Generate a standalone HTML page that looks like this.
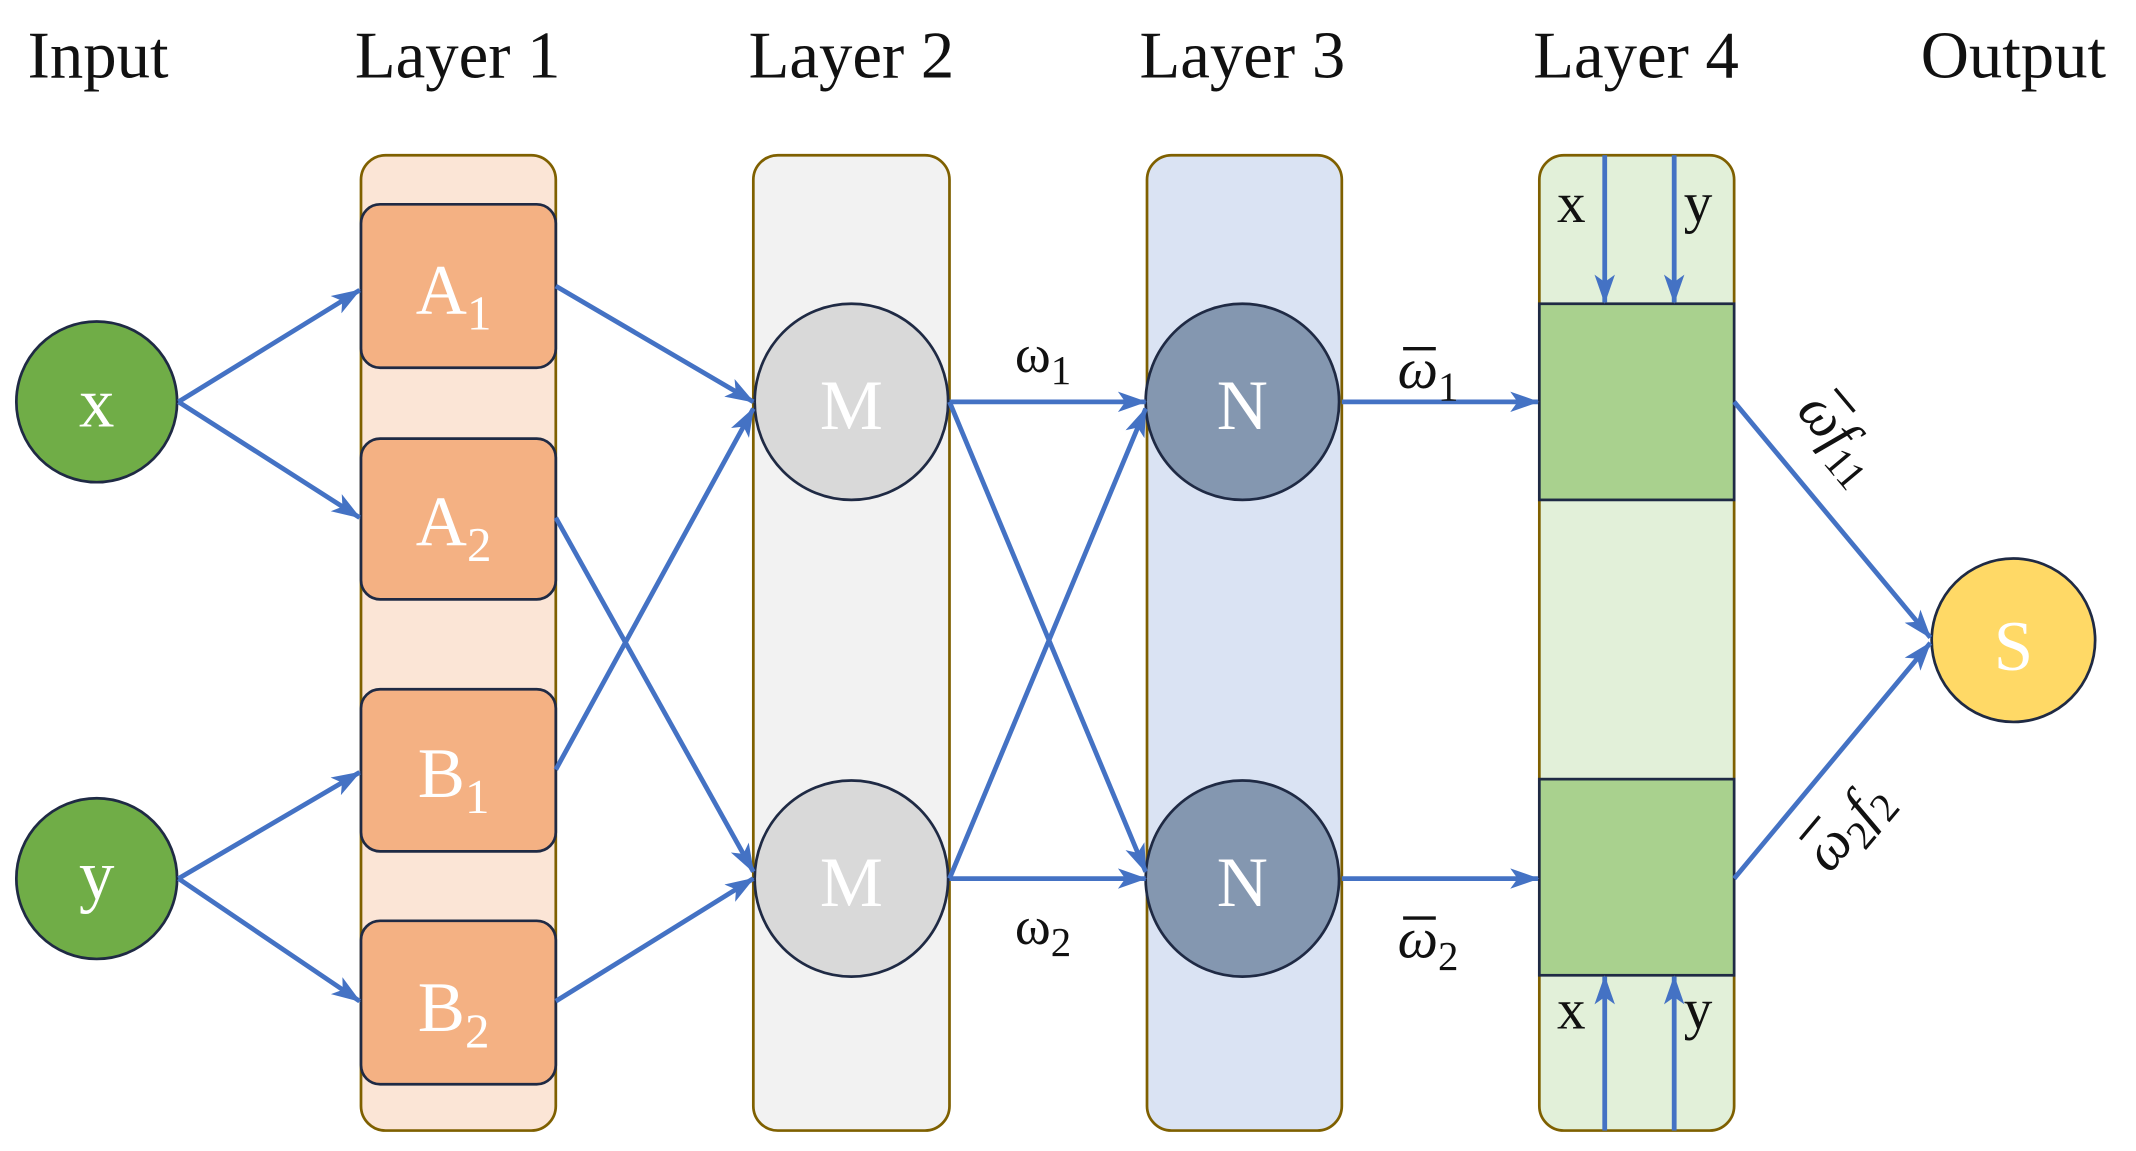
<!DOCTYPE html>
<html><head><meta charset="utf-8"><style>
html,body{margin:0;padding:0;background:#fff;}
svg{display:block;}
</style></head><body>
<svg width="2136" height="1151" viewBox="0 0 1568 845" preserveAspectRatio="none" xmlns="http://www.w3.org/2000/svg" font-family="Liberation Serif, serif">
<defs>
<marker id="ah" viewBox="0 0 20 14" refX="19" refY="7" markerWidth="22" markerHeight="15" markerUnits="userSpaceOnUse" orient="auto">
<path d="M0,0 L20,7 L0,14 L5,7 Z" fill="#4472C4"/>
</marker>
</defs>
<g font-size="49" fill="#111" text-anchor="middle" font-family="Liberation Serif, serif">
<text x="72" y="57">Input</text>
<text x="336" y="57">Layer 1</text>
<text x="625" y="57">Layer 2</text>
<text x="912" y="57">Layer 3</text>
<text x="1201" y="57">Layer 4</text>
<text x="1478" y="57">Output</text>
</g>
<rect x="265" y="114" width="143" height="716" rx="18" fill="#FBE5D6" stroke="#7F6000" stroke-width="2"/>
<rect x="553" y="114" width="144" height="716" rx="18" fill="#F2F2F2" stroke="#7F6000" stroke-width="2"/>
<rect x="842" y="114" width="143" height="716" rx="18" fill="#DAE3F3" stroke="#7F6000" stroke-width="2"/>
<rect x="1130" y="114" width="143" height="716" rx="18" fill="#E2F0D9" stroke="#7F6000" stroke-width="2"/>
<g fill="#F4B183" stroke="#1F2A44" stroke-width="2">
<rect x="265" y="150" width="143" height="120" rx="14"/>
<rect x="265" y="322" width="143" height="118" rx="14"/>
<rect x="265" y="506" width="143" height="119" rx="14"/>
<rect x="265" y="676" width="143" height="120" rx="14"/>
</g>
<rect x="1130" y="223" width="143" height="144" fill="#A9D18E" stroke="#1F2A44" stroke-width="2"/>
<rect x="1130" y="572" width="143" height="144" fill="#A9D18E" stroke="#1F2A44" stroke-width="2"/>
<circle cx="71" cy="295" r="59" fill="#70AD47" stroke="#1F2A44" stroke-width="2"/>
<circle cx="71" cy="645" r="59" fill="#70AD47" stroke="#1F2A44" stroke-width="2"/>
<ellipse cx="625" cy="295" rx="71" ry="72" fill="#D9D9D9" stroke="#1F2A44" stroke-width="2"/>
<ellipse cx="625" cy="645" rx="71" ry="72" fill="#D9D9D9" stroke="#1F2A44" stroke-width="2"/>
<ellipse cx="912" cy="295" rx="71" ry="72" fill="#8497B0" stroke="#1F2A44" stroke-width="2"/>
<ellipse cx="912" cy="645" rx="71" ry="72" fill="#8497B0" stroke="#1F2A44" stroke-width="2"/>
<ellipse cx="1478" cy="470" rx="60" ry="60" fill="#FFD966" stroke="#1F2A44" stroke-width="2"/>
<g fill="#fff" font-size="52" text-anchor="middle" font-family="Liberation Serif, serif">
<text x="71" y="313">x</text>
<text x="71" y="660">y</text>
<text x="333" y="230">A<tspan font-size="36" dy="12">1</tspan></text>
<text x="333" y="400">A<tspan font-size="36" dy="12">2</tspan></text>
<text x="333" y="585">B<tspan font-size="36" dy="12">1</tspan></text>
<text x="333" y="757">B<tspan font-size="36" dy="12">2</tspan></text>
<text x="625" y="315">M</text>
<text x="625" y="665">M</text>
<text x="912" y="315">N</text>
<text x="912" y="665">N</text>
<text x="1478" y="492">S</text>
</g>
<g stroke="#4472C4" stroke-width="3.5" fill="none" marker-end="url(#ah)">
<line x1="131" y1="295" x2="264" y2="213"/>
<line x1="131" y1="295" x2="264" y2="380"/>
<line x1="131" y1="645" x2="264" y2="567"/>
<line x1="131" y1="645" x2="264" y2="735"/>
<line x1="408" y1="210" x2="553" y2="295"/>
<line x1="408" y1="380" x2="553" y2="640"/>
<line x1="408" y1="565" x2="553" y2="300"/>
<line x1="408" y1="735" x2="553" y2="645"/>
<line x1="697" y1="295" x2="841" y2="295"/>
<line x1="697" y1="295" x2="841" y2="640"/>
<line x1="697" y1="645" x2="841" y2="300"/>
<line x1="697" y1="645" x2="841" y2="645"/>
<line x1="985" y1="295" x2="1129" y2="295"/>
<line x1="985" y1="645" x2="1129" y2="645"/>
<line x1="1273" y1="295" x2="1417" y2="468"/>
<line x1="1273" y1="645" x2="1417" y2="472"/>
<line x1="1178" y1="114" x2="1178" y2="222"/>
<line x1="1229" y1="114" x2="1229" y2="222"/>
<line x1="1178" y1="830" x2="1178" y2="717"/>
<line x1="1229" y1="830" x2="1229" y2="717"/>
</g>
<g fill="#111" font-size="42" font-family="Liberation Serif, serif">
<text x="1143" y="163">x</text>
<text x="1236" y="163">y</text>
<text x="1143" y="755">x</text>
<text x="1236" y="755">y</text>
<text x="745" y="273" font-size="40">ω<tspan font-size="30" dy="9">1</tspan></text>
<text x="745" y="693" font-size="40">ω<tspan font-size="30" dy="9">2</tspan></text>
<text x="1026" y="285" font-size="42" font-style="italic">ω<tspan font-style="normal" font-size="30" dy="9">1</tspan></text>
<text x="1026" y="703" font-size="42" font-style="italic">ω<tspan font-style="normal" font-size="30" dy="9">2</tspan></text>
<g transform="translate(1318,302) rotate(50)">
<text x="0" y="0" font-size="42" font-style="italic">ωf<tspan font-style="normal" font-size="30" dy="9">11</tspan></text>
<line x1="6" y1="-33" x2="28" y2="-33" stroke="#111" stroke-width="2.5"/>
</g>
<g transform="translate(1343,642) rotate(-50)">
<text x="0" y="0" font-size="42" font-style="italic">ω<tspan font-style="normal" font-size="30" dy="9">2</tspan><tspan dy="-9">f</tspan><tspan font-style="normal" font-size="30" dy="9">2</tspan></text>
<line x1="6" y1="-33" x2="28" y2="-33" stroke="#111" stroke-width="2.5"/>
</g>
</g>
<g stroke="#111" stroke-width="2.5">
<line x1="1030" y1="256" x2="1054" y2="256"/>
<line x1="1030" y1="674" x2="1054" y2="674"/>
</g>
</svg>
</body></html>
